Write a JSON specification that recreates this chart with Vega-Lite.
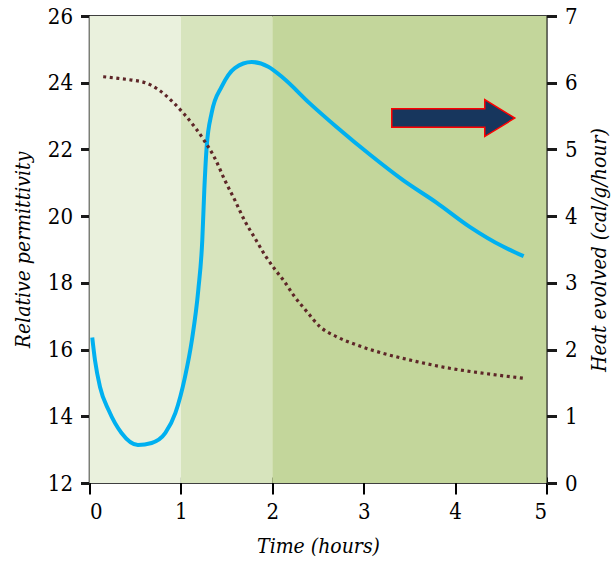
{
  "$schema": "https://vega.github.io/schema/vega-lite/v6.json",
  "autosize": {"type": "none"},
  "padding": {"left": 89.5, "top": 16, "right": 68.5, "bottom": 79},
  "width": 457,
  "height": 467,
  "background": "white",
  "config": {
    "view": {"stroke": "black", "strokeWidth": 1.5},
    "axis": {
      "labelFont": "DejaVu Serif Condensed",
      "titleFont": "DejaVu Serif Condensed",
      "labelFontSize": 22,
      "titleFontSize": 21,
      "titleFontStyle": "italic",
      "titleFontWeight": "normal",
      "labelColor": "black",
      "titleColor": "black",
      "grid": false,
      "zindex": 1
    }
  },
  "datasets": {
    "bands": [
      {"start": 0, "end": 1, "stage": "I"},
      {"start": 1, "end": 2, "stage": "II"},
      {"start": 2, "end": 5, "stage": "III"}
    ],
    "permittivity": [
      {"t": 0.15, "v": 24.18}, {"t": 0.315, "v": 24.13}, {"t": 0.46, "v": 24.08},
      {"t": 0.61, "v": 24.0}, {"t": 0.75, "v": 23.8}, {"t": 0.92, "v": 23.4},
      {"t": 1.045, "v": 23.03}, {"t": 1.155, "v": 22.66}, {"t": 1.264, "v": 22.23},
      {"t": 1.373, "v": 21.73}, {"t": 1.48, "v": 21.08}, {"t": 1.59, "v": 20.48},
      {"t": 1.7, "v": 19.85}, {"t": 1.81, "v": 19.34}, {"t": 1.92, "v": 18.83},
      {"t": 2.03, "v": 18.4}, {"t": 2.13, "v": 18.05}, {"t": 2.23, "v": 17.64},
      {"t": 2.38, "v": 17.13}, {"t": 2.52, "v": 16.69}, {"t": 2.7, "v": 16.39},
      {"t": 2.92, "v": 16.14}, {"t": 3.21, "v": 15.89}, {"t": 3.58, "v": 15.64},
      {"t": 3.94, "v": 15.44}, {"t": 4.31, "v": 15.29}, {"t": 4.75, "v": 15.14}
    ],
    "heat": [
      {"t": 0.03, "v": 2.18}, {"t": 0.06, "v": 1.84}, {"t": 0.115, "v": 1.44},
      {"t": 0.21, "v": 1.09}, {"t": 0.35, "v": 0.75}, {"t": 0.53, "v": 0.57},
      {"t": 0.68, "v": 0.6}, {"t": 0.83, "v": 0.75}, {"t": 0.94, "v": 1.05},
      {"t": 1.045, "v": 1.59}, {"t": 1.12, "v": 2.14}, {"t": 1.19, "v": 2.89},
      {"t": 1.234, "v": 3.64}, {"t": 1.256, "v": 4.39}, {"t": 1.282, "v": 5.04},
      {"t": 1.337, "v": 5.55}, {"t": 1.446, "v": 5.94}, {"t": 1.59, "v": 6.22},
      {"t": 1.775, "v": 6.31}, {"t": 1.956, "v": 6.24}, {"t": 2.12, "v": 6.07},
      {"t": 2.41, "v": 5.69}, {"t": 2.7, "v": 5.34}, {"t": 3.07, "v": 4.92},
      {"t": 3.43, "v": 4.54}, {"t": 3.8, "v": 4.2}, {"t": 4.16, "v": 3.84},
      {"t": 4.53, "v": 3.54}, {"t": 4.75, "v": 3.4}
    ],
    "arrow": [{"t": 3.98, "v": 5.47}]
  },
  "layer": [
    {
      "data": {"name": "bands"},
      "mark": {"type": "rect", "stroke": null},
      "encoding": {
        "x": {
          "field": "start", "type": "quantitative",
          "scale": {"domain": [0, 5], "nice": false},
          "axis": {
            "orient": "bottom",
            "values": [0, 1, 2, 3, 4, 5],
            "format": "d",
            "title": "Time (hours)",
            "labelFlush": true,
            "offset": -6,
            "domain": true,
            "domainColor": "transparent",
            "ticks": true,
            "tickSize": 17,
            "tickWidth": 2,
            "tickColor": "black",
            "tickOpacity": 1,
            "labelPadding": 7,
            "titlePadding": 13
          }
        },
        "x2": {"field": "end"},
        "color": {
          "field": "stage", "type": "nominal",
          "scale": {"domain": ["I", "II", "III"], "range": ["#eaf1dd", "#d7e4bd", "#c3d69b"]},
          "legend": null
        }
      }
    },
    {
      "data": {"name": "heat"},
      "mark": {"type": "line", "color": "#00b0f0", "strokeWidth": 4, "interpolate": "monotone", "strokeCap": "butt"},
      "encoding": {
        "x": {"field": "t", "type": "quantitative"},
        "y": {
          "field": "v", "type": "quantitative",
          "scale": {"domain": [0, 7], "nice": false},
          "axis": {
            "orient": "right",
            "values": [0, 1, 2, 3, 4, 5, 6, 7],
            "format": "d",
            "title": "Heat evolved (cal/g/hour)",
            "titleAngle": 270,
            "titleX": 53,
            "titleY": 233.5,
            "titleAlign": "center",
            "titleBaseline": "middle",
            "domain": true,
            "domainColor": "#1a1a1a",
            "ticks": true,
            "tickSize": 10,
            "tickWidth": 3,
            "tickColor": "#1a1a1a",
            "tickOpacity": 1,
            "labelPadding": 8
          }
        }
      }
    },
    {
      "data": {"name": "permittivity"},
      "mark": {"type": "line", "color": "#5e2628", "strokeWidth": 3.2, "strokeDash": [3, 3.6], "interpolate": "monotone", "strokeCap": "butt"},
      "encoding": {
        "x": {"field": "t", "type": "quantitative"},
        "y": {
          "field": "v", "type": "quantitative",
          "scale": {"domain": [12, 26], "nice": false},
          "axis": {
            "orient": "left",
            "values": [12, 14, 16, 18, 20, 22, 24, 26],
            "format": "d",
            "title": "Relative permittivity",
            "domain": true,
            "domainColor": "#1a1a1a",
            "ticks": true,
            "tickSize": 9,
            "tickWidth": 3,
            "tickColor": "#1a1a1a",
            "tickOpacity": 1,
            "labelPadding": 8,
            "titlePadding": 14
          }
        }
      }
    },
    {
      "data": {"name": "arrow"},
      "mark": {
        "type": "point",
        "shape": "M -1 -0.15 L 0.512 -0.15 L 0.512 -0.3 L 1 0 L 0.512 0.3 L 0.512 0.15 L -1 0.15 Z",
        "size": 15129,
        "filled": true,
        "fill": "#17365d",
        "stroke": "#ff0000",
        "strokeWidth": 1.5,
        "opacity": 1
      },
      "encoding": {
        "x": {"field": "t", "type": "quantitative"},
        "y": {"field": "v", "type": "quantitative", "scale": {"domain": [0, 7], "nice": false}, "axis": null}
      }
    }
  ],
  "resolve": {"scale": {"y": "independent"}, "axis": {"y": "independent"}}
}
